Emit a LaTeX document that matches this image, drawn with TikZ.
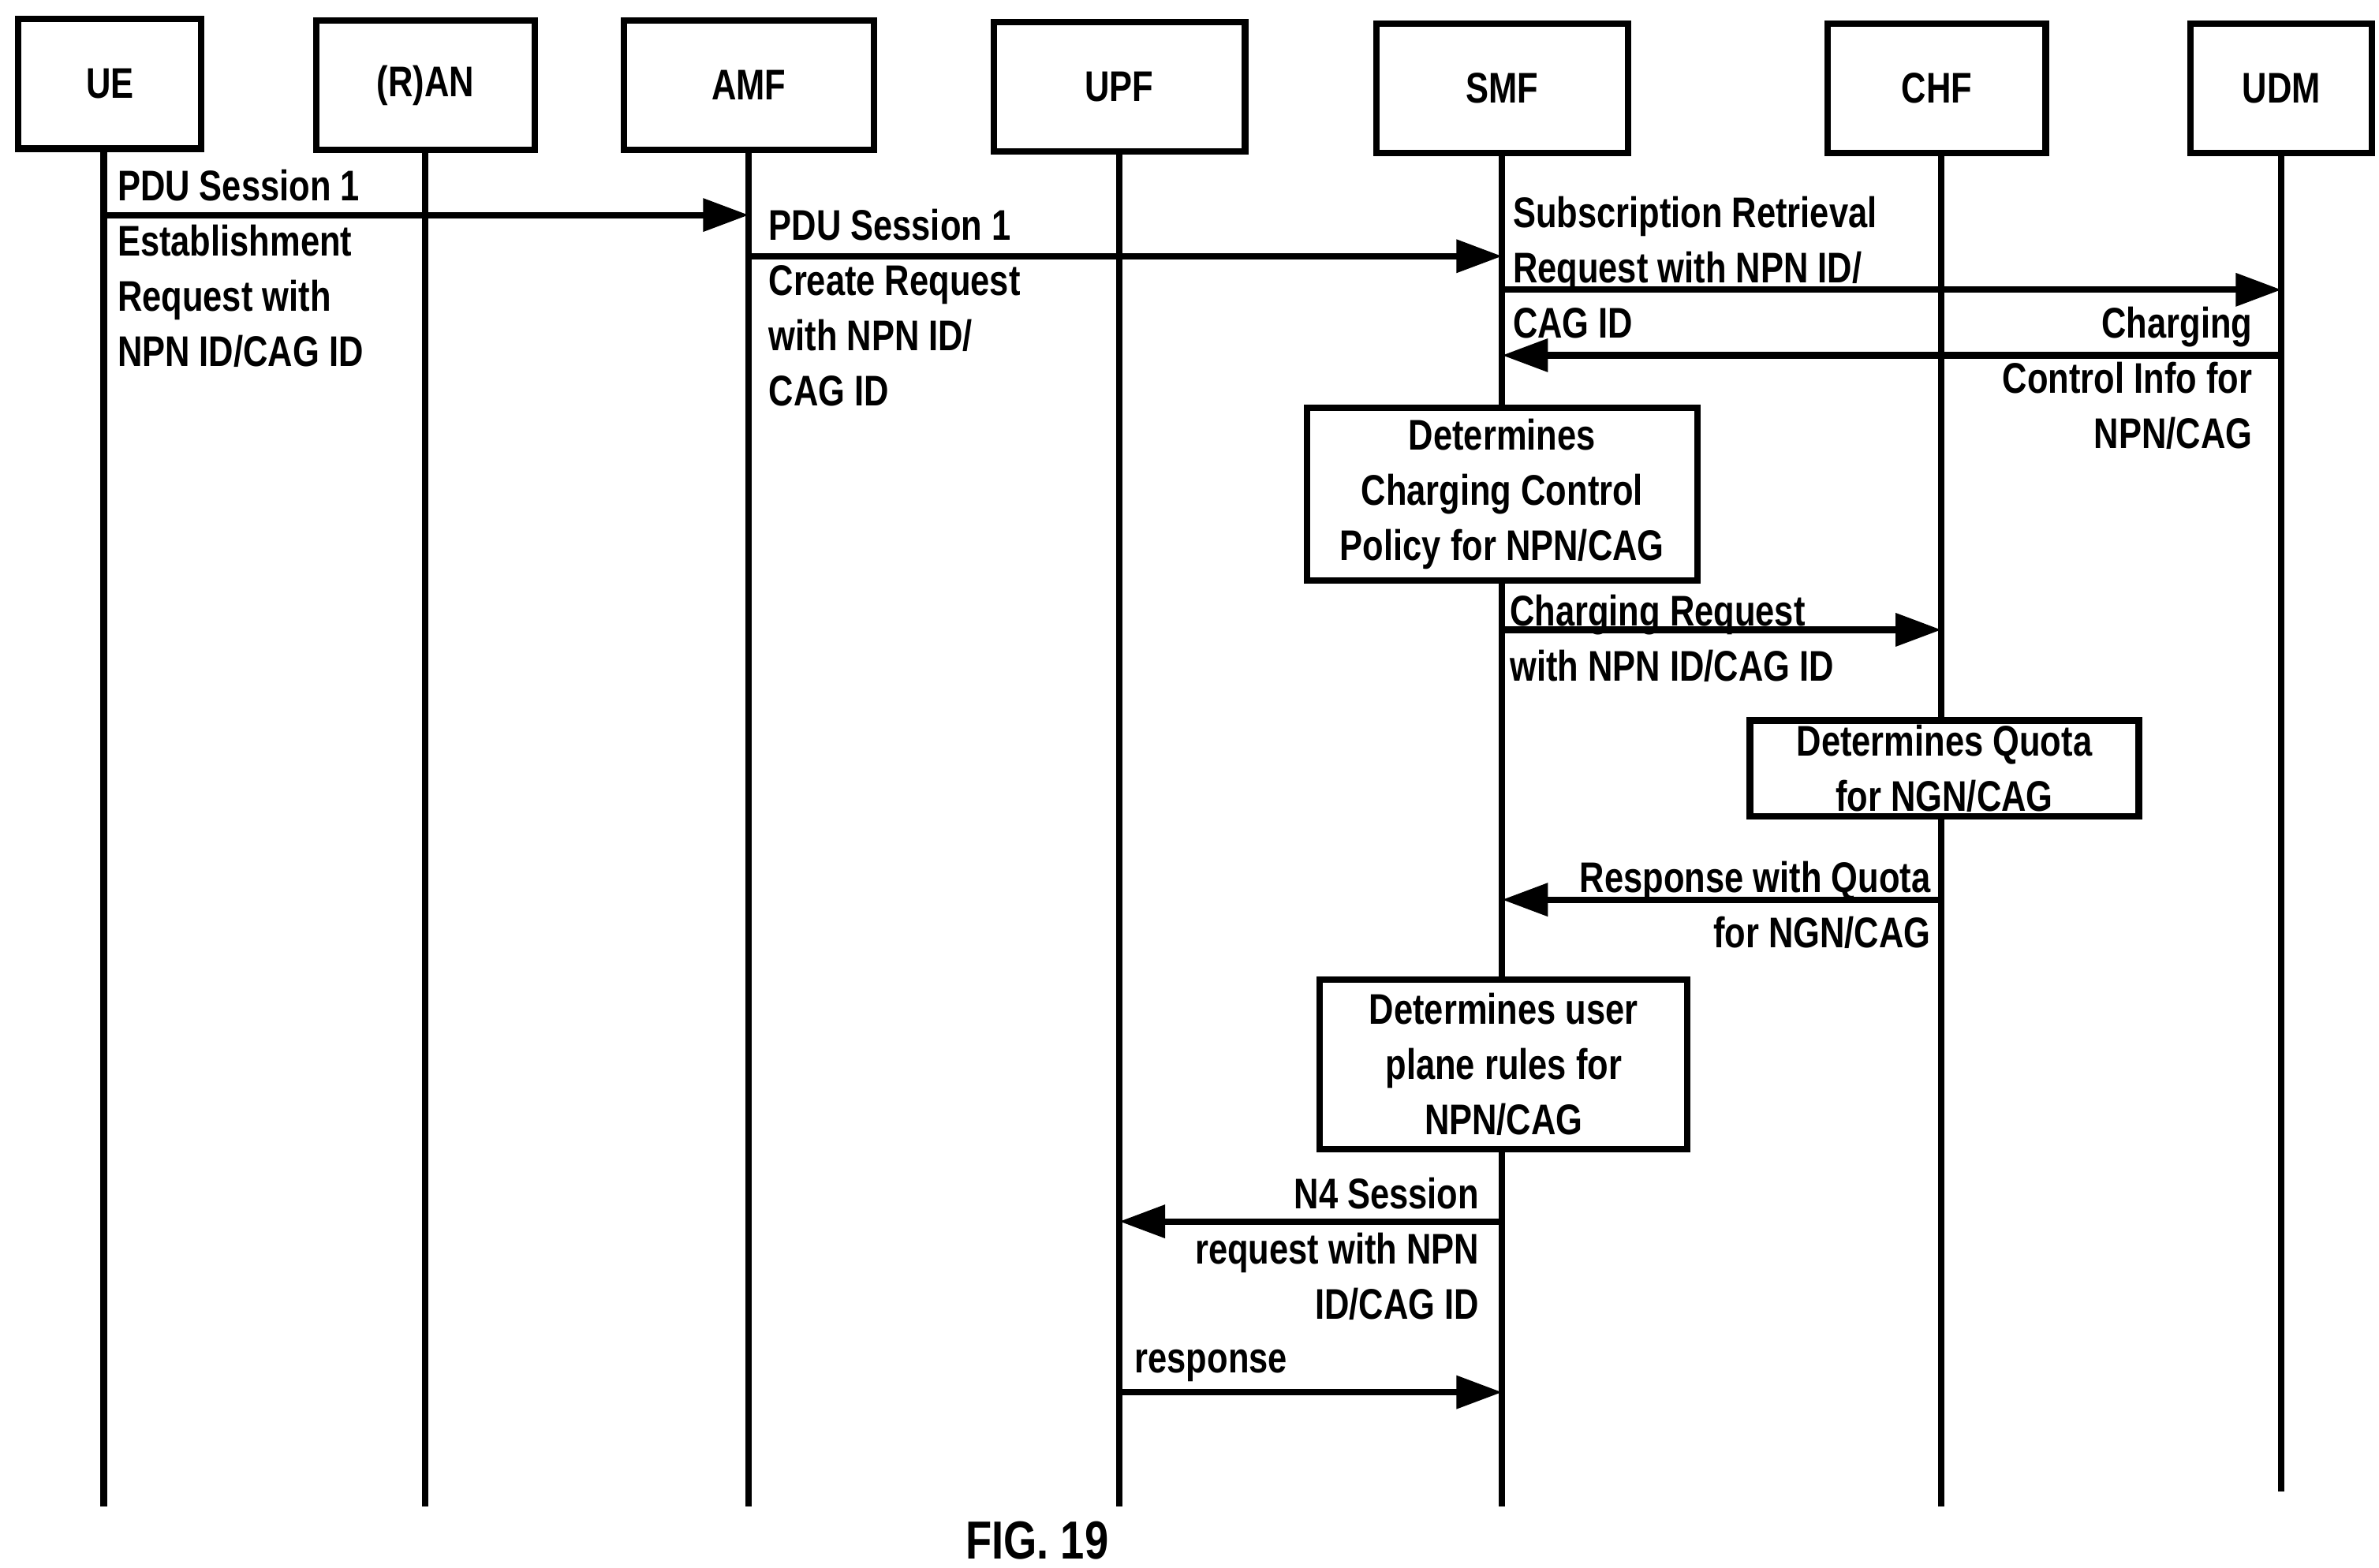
\documentclass[tikz,border=0pt]{standalone}
\usepackage{fontspec}
\setmainfont{Liberation Sans}[FakeStretch=0.8]
\usetikzlibrary{arrows.meta,positioning}
\begin{document}
\begin{tikzpicture}[x=0.02cm,y=-0.02cm,line width=2.4pt,
  >={Triangle[length=0.6cm,width=0.42cm]},
  every node/.style={font=\bfseries\fontsize{16}{20.6}\selectfont},
  entity/.style={draw,minimum height=1.7cm,inner sep=0pt},
  action/.style={draw,align=center,inner sep=0pt},
  lbl/.style={inner sep=0pt,align=left,anchor=north west},
  rlbl/.style={inner sep=0pt,align=right,anchor=north east}]
 \useasboundingbox (0,0) rectangle (1560,1028);
 % entities
 \node (ue) [entity,minimum width=2.4cm] at (72,55) {UE};
 \node (ran) [entity,minimum width=2.86cm] at (279,56) {(R)AN};
 \node (amf) [entity,minimum width=3.28cm] at (491,56) {AMF};
 \node (upf) [entity,minimum width=3.3cm] at (734,57) {UPF};
 \node (smf) [entity,minimum width=3.3cm] at (985,58) {SMF};
 \node (chf) [entity,minimum width=2.86cm] at (1270,58) {CHF};
 \node (udm) [entity,minimum width=2.38cm] at (1496,58) {UDM};
 % life lines
 \coordinate (ue-end) at (68,988);
 \coordinate (ran-end) at (279,988);
 \coordinate (amf-end) at (491,988);
 \coordinate (upf-end) at (734,988);
 \coordinate (smf-end) at (985,988);
 \coordinate (chf-end) at (1273,988);
 \coordinate (udm-end) at (1496,978);
 \foreach \e in {ue,ran,amf,upf,smf,chf,udm}
   \draw (\e.south -| \e-end) -- (\e-end);
 % actions
 \node (ccp) [action,fill=white,minimum width=5.12cm,minimum height=2.26cm] at (985,324)
   {Determines\\Charging Control\\Policy for NPN/CAG};
 \node (quota) [action,fill=white,minimum width=5.1cm,minimum height=1.26cm] at (1275,504)
   {Determines Quota\\for NGN/CAG};
 \node (upr) [action,fill=white,minimum width=4.82cm,minimum height=2.22cm] at (986,698)
   {Determines user\\plane rules for\\NPN/CAG};
 % messages
 \draw[->] (68,141) coordinate (m1a) -- (491,141) coordinate (m1b);
 \node[lbl] at (75,109) {PDU Session 1\\Establishment\\Request with\\NPN ID/CAG ID};
 \draw[->] (491,168) coordinate (m2a) -- (985,168) coordinate (m2b);
 \node[lbl] at (502,135) {PDU Session 1\\Create Request\\with NPN ID/\\CAG ID};
 \draw[->] (985,190) coordinate (m3a) -- (1496,190) coordinate (m3b);
 \node[lbl] at (990,127) {Subscription Retrieval\\Request with NPN ID/\\CAG ID};
 \draw[->] (1496,233) coordinate (m4a) -- (985,233) coordinate (m4b);
 \node[rlbl] at (1479,199) {Charging\\Control Info for\\NPN/CAG};
 \draw[->] (985,413) coordinate (m5a) -- (1273,413) coordinate (m5b);
 \node[lbl] at (988,388) {Charging Request\\with NPN ID/CAG ID};
 \draw[->] (1273,590) coordinate (m6a) -- (985,590) coordinate (m6b);
 \node[rlbl] at (1268,563) {Response with Quota\\for NGN/CAG};
 \draw[->] (985,801) coordinate (m7a) -- (734,801) coordinate (m7b);
 \node[rlbl] at (972,770) {N4 Session\\request with NPN\\ID/CAG ID};
 \draw[->] (734,913) coordinate (m8a) -- (985,913) coordinate (m8b);
 \node[lbl] at (742,883) {response};
 \node (fig) at (680,1010) {\fontsize{20}{24}\selectfont FIG. 19};
\end{tikzpicture}
\end{document}
